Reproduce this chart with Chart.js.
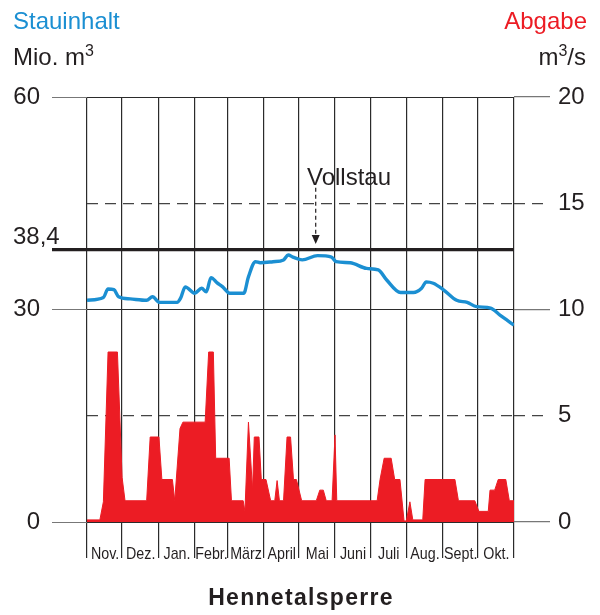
<!DOCTYPE html>
<html lang="de">
<head>
<meta charset="utf-8">
<title>Hennetalsperre</title>
<script src="https://cdn.jsdelivr.net/npm/chart.js@4/dist/chart.umd.min.js"></script>
<style>
  html, body { margin: 0; padding: 0; background: #fff; }
  #wrap { position: relative; width: 600px; height: 615px; font-family: "Liberation Sans", Arial, sans-serif; color: #231f20; }
  #wrap canvas { position: absolute; left: 0; top: 0; }
  .txt { position: absolute; font-size: 24px; line-height: 24px; white-space: nowrap; }
  .hoch { font-size: 16px; position: relative; top: -9px; }
</style>
</head>
<body>
<div id="wrap">
  <canvas id="sperre" width="600" height="615"></canvas>
  <div class="txt" style="left:13px;top:9px;color:#1b8fd2">Stauinhalt</div>
  <div class="txt" style="left:13px;top:45px">Mio. m<span class="hoch">3</span></div>
  <div class="txt" style="right:13px;top:9px;color:#ec1c24">Abgabe</div>
  <div class="txt" style="right:14px;top:45px">m<span class="hoch">3</span>/s</div>
  <div class="txt" style="left:13px;top:224px">38,4</div>
  <div class="txt" style="left:307px;top:165px">Vollstau</div>
  <div class="txt" style="left:0;width:602px;text-align:center;top:585px;font-weight:bold;font-size:23px;letter-spacing:1.3px">Hennetalsperre</div>
</div>
<script>
  // Abflussjahr Nov. - Okt., x-Achse in Tagen
  const monate = ['Nov.', 'Dez.', 'Jan.', 'Febr.', 'März', 'April', 'Mai', 'Juni', 'Juli', 'Aug.', 'Sept.', 'Okt.'];
  const monatsTage = [30, 31, 31, 28, 31, 30, 31, 30, 31, 31, 30, 31];

  // Stauinhalt in Mio. m3 (linke Achse)
  const stauTage = [0, 14, 18, 23, 27, 37, 51, 56, 62, 77, 80, 84, 92, 98, 102, 106, 111, 116, 122, 134,
    138, 144, 148, 159, 168, 172, 176, 184, 197, 209, 213, 225, 239, 249, 256, 268, 279, 286, 290, 296,
    305, 316, 325, 333, 345, 353, 365];
  const stauinhalt = [31.3, 31.7, 32.9, 32.8, 31.8, 31.5, 31.3, 31.8, 31.0, 31.0, 31.6, 33.2, 32.3, 33.0, 32.5, 34.5, 33.8, 33.2, 32.3, 32.3,
    34.6, 36.75, 36.6, 36.75, 37.0, 37.7, 37.4, 37.0, 37.6, 37.4, 36.75, 36.6, 35.8, 35.6, 34.2, 32.4, 32.4, 33.0, 33.9, 33.7,
    32.75, 31.3, 31.0, 30.4, 30.2, 29.2, 27.8];

  // Abgabe in m3/s (rechte Achse)
  const abgabeTage = [0, 11, 14, 18, 26, 30, 32.5, 51, 54, 61.5, 64, 73, 75, 79.5, 82, 101, 104, 108, 110, 121.5,
    123.5, 133.5, 135, 138, 141.5, 143, 147, 149, 153, 157, 160.5, 162.5, 164.5, 168, 171, 174, 176.5, 179, 183.5, 196,
    199, 202, 204.5, 209.5, 212, 213.5, 248, 250.5, 254, 260, 263, 267.5, 271, 273, 276, 278.5, 287, 289, 300, 314.5,
    317.5, 331.5, 335, 343, 344.5, 348.5, 351.5, 358, 361, 365];
  const abgabe = [0.1, 0.1, 0.95, 8.0, 8.0, 2.1, 1.0, 1.0, 4.0, 4.0, 2.0, 2.0, 1.0, 4.4, 4.7, 4.7, 8.0, 8.0, 3.0, 3.0,
    1.0, 1.0, 0.5, 4.7, 1.5, 4.0, 4.0, 2.0, 2.0, 1.0, 1.0, 1.95, 1.0, 1.0, 4.0, 4.0, 2.0, 2.0, 1.0, 1.0,
    1.5, 1.5, 1.0, 1.0, 4.1, 1.0, 1.0, 2.0, 3.0, 3.0, 2.0, 2.0, 0.05, 0.05, 0.95, 0.1, 0.1, 2.0, 2.0, 2.0,
    1.0, 1.0, 0.5, 0.5, 1.5, 1.5, 2.0, 2.0, 1.0, 1.0];

  const linksTicks = [0, 30, 38.4, 60];
  const rechtsTicks = [0, 5, 10, 15, 20];
  const vollstau = 38.4;

  const grenzen = [0];
  monatsTage.forEach(t => grenzen.push(grenzen[grenzen.length - 1] + t));
  const mitten = monate.map((m, i) => (grenzen[i] + grenzen[i + 1]) / 2);

  const schrift = '"Liberation Sans", Arial, sans-serif';
  const tickWert = c => (c.tick ? c.tick.value : null);
  const istVoll = c => tickWert(c) === vollstau;
  const gestrichelt = c => tickWert(c) === 5 || tickWert(c) === 15;

  // Monatsnamen schmal gesetzt, mittig im Monat
  const monatsNamen = {
    id: 'monatsNamen',
    afterDraw(chart) {
      const sx = chart.scales.x;
      const c = chart.ctx;
      c.save();
      c.fillStyle = '#231f20';
      c.font = '17px ' + schrift;
      c.textAlign = 'center';
      c.textBaseline = 'alphabetic';
      mitten.forEach((t, i) => {
        const x = sx.getPixelForValue(t);
        c.save();
        c.translate(x + 0.5, sx.top + 37);
        c.scale(0.84, 1);
        c.fillText(monate[i], 0, 0);
        c.restore();
      });
      c.restore();
    }
  };

  // gestrichelter Pfeil von "Vollstau" auf die Linie
  const pfeil = {
    id: 'pfeil',
    afterDatasetsDraw(chart) {
      const x = chart.scales.x.getPixelForValue(195.5);
      const y0 = chart.scales.y.getPixelForValue(47.2);
      const y1 = chart.scales.y.getPixelForValue(39.25);
      const c = chart.ctx;
      c.save();
      c.strokeStyle = '#231f20';
      c.lineWidth = 1.2;
      c.setLineDash([4, 3]);
      c.beginPath();
      c.moveTo(x, y0);
      c.lineTo(x, y1 - 8);
      c.stroke();
      c.setLineDash([]);
      c.fillStyle = '#231f20';
      c.beginPath();
      c.moveTo(x - 4, y1 - 9);
      c.lineTo(x + 4, y1 - 9);
      c.lineTo(x, y1);
      c.closePath();
      c.fill();
      c.restore();
    }
  };

  new Chart(document.getElementById('sperre'), {
    type: 'line',
    data: {
      datasets: [{
        label: 'Abgabe',
        data: abgabeTage.map((t, i) => ({ x: t, y: abgabe[i] })),
        yAxisID: 'y2',
        fill: 'origin',
        backgroundColor: '#ec1c24',
        borderColor: '#ec1c24',
        borderWidth: 1,
        pointRadius: 0,
        tension: 0
      }, {
        label: 'Stauinhalt',
        data: stauTage.map((t, i) => ({ x: t, y: stauinhalt[i] })),
        yAxisID: 'y',
        fill: false,
        borderColor: '#1b8fd2',
        borderWidth: 3.4,
        pointRadius: 0,
        cubicInterpolationMode: 'monotone'
      }]
    },
    options: {
      responsive: false,
      animation: false,
      layout: { padding: { top: 97, left: 0, right: 0, bottom: 0 } },
      plugins: { legend: { display: false }, tooltip: { enabled: false } },
      scales: {
        x: {
          type: 'linear',
          min: 0,
          max: 365,
          afterBuildTicks: s => { s.ticks = grenzen.map(v => ({ value: v })); },
          afterFit: s => { s.height = 93; },
          border: { display: false },
          grid: {
            color: '#2b2b2b',
            tickColor: '#2b2b2b',
            lineWidth: 1.2,
            tickWidth: 1.2,
            tickLength: 36
          },
          ticks: {
            autoSkip: false,
            maxRotation: 0,
            callback: () => ''
          }
        },
        y: {
          position: 'left',
          min: 0,
          max: 60,
          afterBuildTicks: s => { s.ticks = linksTicks.map(v => ({ value: v })); },
          afterFit: s => { s.width = 87; },
          border: { display: false },
          grid: {
            color: c => istVoll(c) ? '#231f20' : '#2b2b2b',
            lineWidth: c => istVoll(c) ? 3.3 : 1,
            tickColor: c => istVoll(c) ? '#231f20' : '#777',
            tickWidth: c => istVoll(c) ? 3.3 : 1,
            tickLength: 35
          },
          ticks: {
            padding: 12,
            color: '#231f20',
            font: { family: schrift, size: 24 },
            callback: v => v === vollstau ? '' : String(v)
          }
        },
        y2: {
          position: 'right',
          min: 0,
          max: 20,
          afterBuildTicks: s => { s.ticks = rechtsTicks.map(v => ({ value: v })); },
          afterFit: s => { s.width = 86; },
          border: { display: false, dash: c => gestrichelt(c) ? [11, 7] : [] },
          grid: {
            color: c => gestrichelt(c) ? '#444' : 'rgba(0,0,0,0)',
            lineWidth: 1.3,
            tickColor: c => gestrichelt(c) ? '#444' : '#777',
            tickWidth: 1.2,
            tickBorderDash: c => gestrichelt(c) ? [11, 7] : [],
            tickLength: 36
          },
          ticks: {
            padding: 8,
            color: '#231f20',
            font: { family: schrift, size: 24 }
          }
        }
      }
    },
    plugins: [pfeil, monatsNamen]
  });
</script>
</body>
</html>
